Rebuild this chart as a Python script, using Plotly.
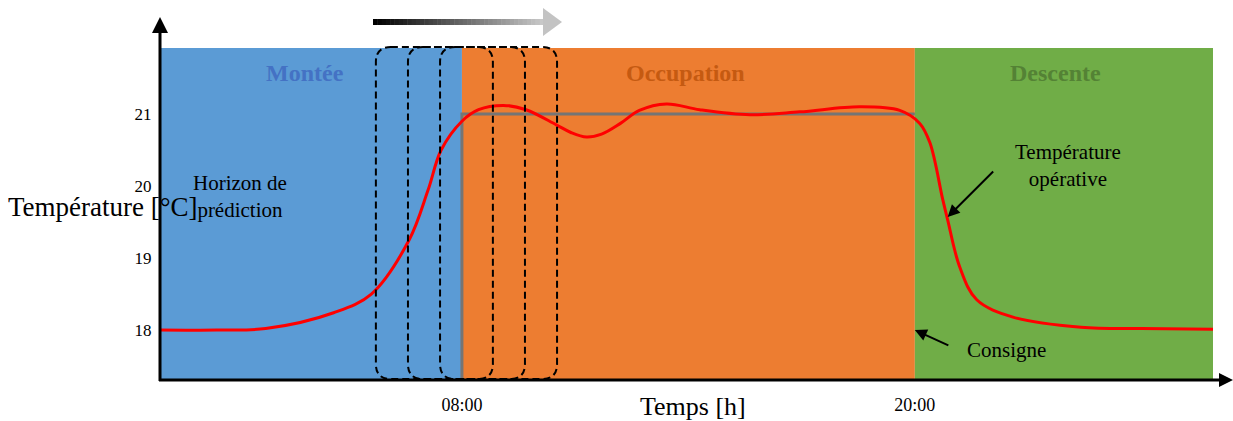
import plotly.graph_objects as go

# ---------------- data ----------------
time_h = [0.0, 1.5, 2.8, 4.6, 5.6, 6.6, 7.1, 7.45, 8.0, 8.44, 9.1, 9.7, 10.5, 10.9, 11.3,
          11.7, 12.2, 12.7, 13.42, 14.3, 15.63, 16.95, 18.54, 19.6, 20.13, 20.4, 20.74,
          20.87, 21.19, 21.64, 22.6, 24.4, 26.0, 27.9]
temp_op = [18.0, 18.0, 18.02, 18.24, 18.5, 19.25, 19.94, 20.5, 20.9, 21.06, 21.12, 21.06,
           20.85, 20.74, 20.68, 20.72, 20.87, 21.05, 21.14, 21.06, 20.99, 21.03, 21.10,
           21.05, 20.87, 20.6, 19.81, 19.53, 18.875, 18.42, 18.18, 18.04, 18.02, 18.01]

consigne_x = [8, 8, 20]
consigne_y = [16, 21, 21]

phase_names = ["Montée", "Occupation", "Descente"]
phase_start = [0, 8, 20]
phase_end = [8, 20, 27.9]

horizon_start = [5.72, 6.57, 7.42]
horizon_len = 3.1

ytick_vals = [18, 19, 20, 21]
xtick_vals = [8, 20]
xtick_text = ["08:00", "20:00"]

# ---------------- styles ----------------
W, H = 1233, 421
L, R, T, B = 160, 20, 48, 41
phase_fill = ["#5B9BD5", "#ED7D31", "#70AD47"]
phase_text = ["#4472C4", "#C55A11", "#548235"]
FONT = "Liberation Serif"

def px(x):
    return (x - L) / (W - L - R)

def py(y):
    return (H - B - y) / (H - T - B)

fig = go.Figure()

shapes = []
for s, e, c in zip(phase_start, phase_end, phase_fill):
    shapes.append(dict(type="rect", xref="x", yref="paper", x0=s, x1=e, y0=0, y1=1,
                       fillcolor=c, line=dict(width=0), layer="below"))

fig.add_trace(go.Scatter(x=consigne_x, y=consigne_y, mode="lines",
                         line=dict(color="#757575", width=3), hoverinfo="skip"))
fig.add_trace(go.Scatter(x=time_h, y=temp_op, mode="lines",
                         line=dict(color="#FF0000", width=3, shape="spline", smoothing=1.0),
                         hoverinfo="skip"))

# dashed rounded rectangles (prediction horizons)
ytop, ybot = py(47), py(379)
rx = 15 / ((W - L - R) / 27.9)
ry = 15 / (H - T - B)
for s in horizon_start:
    e = s + horizon_len
    path = (f"M {s+rx},{ytop} L {e-rx},{ytop} Q {e},{ytop} {e},{ytop-ry} "
            f"L {e},{ybot+ry} Q {e},{ybot} {e-rx},{ybot} L {s+rx},{ybot} "
            f"Q {s},{ybot} {s},{ybot+ry} L {s},{ytop-ry} Q {s},{ytop} {s+rx},{ytop} Z")
    shapes.append(dict(type="path", xref="x", yref="paper", path=path,
                       line=dict(color="black", width=2, dash="7px,4px"), layer="above"))

# axes lines with arrows
shapes.append(dict(type="line", xref="paper", yref="paper", x0=0, x1=0, y0=py(381), y1=py(32),
                   line=dict(color="black", width=3), layer="above"))
shapes.append(dict(type="path", xref="paper", yref="paper",
                   path=f"M {px(152)},{py(33)} L {px(168)},{py(33)} L {px(160)},{py(17)} Z",
                   fillcolor="black", line=dict(width=0), layer="above"))
shapes.append(dict(type="line", xref="paper", yref="paper", x0=px(159), x1=px(1222), y0=0, y1=0,
                   line=dict(color="black", width=3), layer="above"))
shapes.append(dict(type="path", xref="paper", yref="paper",
                   path=f"M {px(1219)},{py(373)} L {px(1219)},{py(387)} L {px(1233)},{py(380)} Z",
                   fillcolor="black", line=dict(width=0), layer="above"))

# gradient arrow on top
N = 40
x0p, x1p = 373, 544
for i in range(N):
    a = x0p + (x1p - x0p) * i / N
    b = x0p + (x1p - x0p) * (i + 1) / N + 0.5
    g = int(200 * i / (N - 1))
    shapes.append(dict(type="rect", xref="paper", yref="paper", x0=px(a), x1=px(b),
                       y0=py(25), y1=py(19), fillcolor=f"rgb({g},{g},{g})",
                       line=dict(width=0), layer="above"))
shapes.append(dict(type="path", xref="paper", yref="paper",
                   path=f"M {px(543)},{py(8)} L {px(543)},{py(36)} L {px(562)},{py(22)} Z",
                   fillcolor="rgb(195,195,195)", line=dict(width=0), layer="above"))

annotations = []
label_x = [3.84, 13.93, 23.73]
for name, xc, col in zip(phase_names, label_x, phase_text):
    annotations.append(dict(x=xc, y=21.57, xref="x", yref="y", text=f"<b>{name}</b>",
                            showarrow=False, xanchor="center", yanchor="middle",
                            font=dict(family=FONT, size=24, color=col)))

annotations += [
    dict(x=2.12, y=19.86, xref="x", yref="y", text="Horizon de<br>prédiction", showarrow=False,
         xanchor="center", yanchor="middle", font=dict(family=FONT, size=21, color="black")),
    dict(x=24.05, y=20.28, xref="x", yref="y", text="Température<br>opérative", showarrow=False,
         xanchor="center", yanchor="middle", font=dict(family=FONT, size=21, color="black")),
    dict(x=22.44, y=17.72, xref="x", yref="y", text="Consigne", showarrow=False,
         xanchor="center", yanchor="middle", font=dict(family=FONT, size=21, color="black")),
    dict(x=20.87, y=19.57, xref="x", yref="y", text="", showarrow=True, ax=47, ay=-47,
         arrowhead=2, arrowsize=1.2, arrowwidth=2, arrowcolor="black", standoff=0),
    dict(x=20.0, y=18.0, xref="x", yref="y", text="", showarrow=True, ax=35, ay=16,
         arrowhead=2, arrowsize=1.2, arrowwidth=2, arrowcolor="black", standoff=0),
    dict(x=px(103), y=py(207), xref="paper", yref="paper", text="Température [°C]",
         showarrow=False, xanchor="center", yanchor="middle",
         font=dict(family=FONT, size=27, color="black")),
    dict(x=px(693), y=py(407), xref="paper", yref="paper", text="Temps [h]",
         showarrow=False, xanchor="center", yanchor="middle",
         font=dict(family=FONT, size=26, color="black")),
]

fig.update_layout(
    width=W, height=H,
    margin=dict(l=L, r=R, t=T, b=B, pad=0),
    paper_bgcolor="white", plot_bgcolor="white",
    showlegend=False,
    shapes=shapes, annotations=annotations,
    xaxis=dict(range=[0, 27.9], showgrid=False, zeroline=False, showline=False,
               automargin=False,
               tickvals=xtick_vals, ticktext=xtick_text, ticks="outside", ticklen=8,
               tickcolor="rgba(0,0,0,0)", tickfont=dict(family=FONT, size=18, color="black")),
    yaxis=dict(range=[17.306, 21.917], showgrid=False, zeroline=False, showline=False,
               automargin=False,
               tickvals=ytick_vals, ticks="outside", ticklen=4,
               tickcolor="rgba(0,0,0,0)", tickfont=dict(family=FONT, size=17, color="black")),
)

fig.write_html("out.html", config={"displayModeBar": False},
               post_script="document.body.style.margin='0';")
